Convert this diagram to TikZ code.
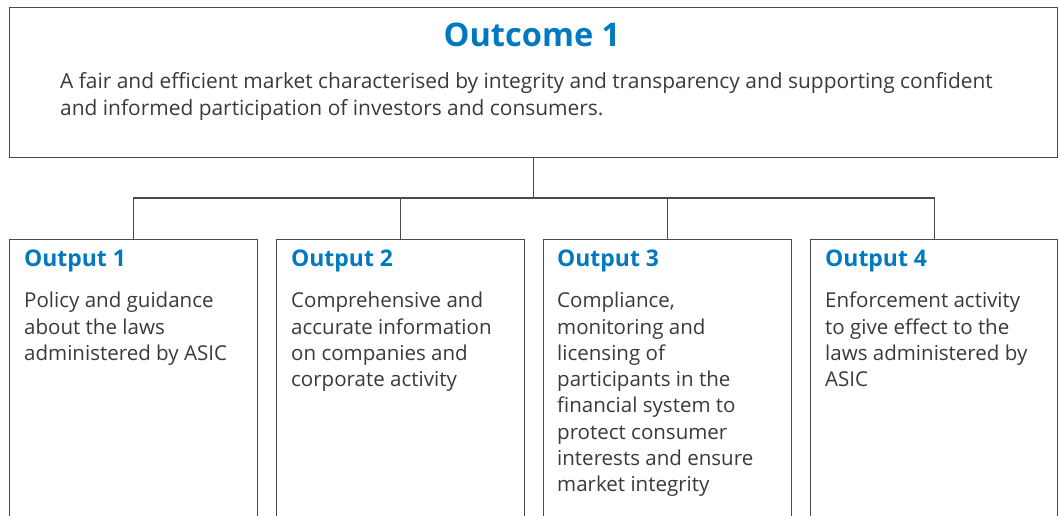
\documentclass[tikz,border=0pt]{standalone}
\usepackage{fontspec}
\setmainfont{Open Sans}
\definecolor{asicblue}{HTML}{0079C1}
\definecolor{txtgrey}{HTML}{3A3A3A}
\definecolor{lngrey}{HTML}{4A4A4A}
\begin{document}
\begin{tikzpicture}[x=1bp,y=-1bp,
  box/.style={draw=lngrey, line width=1.2bp, inner sep=0, anchor=north west, minimum height=300bp},
  conn/.style={draw=lngrey, line width=1.2bp},
  headtxt/.style={anchor=base west, inner sep=0, text=asicblue, font=\bfseries\fontsize{23}{27}\selectfont},
  bodytxt/.style={anchor=base west, inner sep=0, text=txtgrey, font=\fontsize{20.6}{26.3}\selectfont}]
\useasboundingbox (0,0) rectangle (1058,516);
\clip (0,0) rectangle (1058,516);
\node[box, minimum width=1048.5bp, minimum height=150bp] (outcome) at (8.5,7) {};
\node[box, minimum width=248.5bp] (o1) at (8.5,239) {};
\node[box, minimum width=248bp] (o2) at (276,239) {};
\node[box, minimum width=248bp] (o3) at (543,239) {};
\node[box, minimum width=247bp] (o4) at (810,239) {};
\coordinate (bus) at (outcome.south |- 0,198);
\draw[conn] (outcome.south) -- (bus);
\draw[conn] (o1.north) |- (bus) -| (o4.north);
\draw[conn] (o2.north) -- (o2.north |- bus);
\draw[conn] (o3.north) -- (o3.north |- bus);
\node[anchor=base, inner sep=0, text=asicblue, font=\bfseries\fontsize{32.7}{38}\selectfont] (title) at (532,47) {Outcome 1};
\node[anchor=base west, inner sep=0, text=txtgrey, font=\fontsize{21}{26.3}\selectfont] (desc) at (60,89) {\parbox[t]{1000bp}{A fair and efficient market characterised by integrity and transparency and supporting confident\\and informed participation of investors and consumers.}};
\node[headtxt] (h1) at (24,267) {Output 1};
\node[headtxt] (h2) at (291,267) {Output 2};
\node[headtxt] (h3) at (557,267) {Output 3};
\node[headtxt] (h4) at (825,267) {Output 4};
\node[bodytxt] (b1) at (24,308) {\parbox[t]{230bp}{Policy and guidance\\about the laws\\administered by ASIC}};
\node[bodytxt] (b2) at (291,308) {\parbox[t]{230bp}{Comprehensive and\\accurate information\\on companies and\\corporate activity}};
\node[bodytxt] (b3) at (557,308) {\parbox[t]{230bp}{Compliance,\\monitoring and\\licensing of\\participants in the\\financial system to\\protect consumer\\interests and ensure\\market integrity}};
\node[bodytxt] (b4) at (825,308) {\parbox[t]{230bp}{Enforcement activity\\to give effect to the\\laws administered by\\ASIC}};
\end{tikzpicture}
\end{document}
